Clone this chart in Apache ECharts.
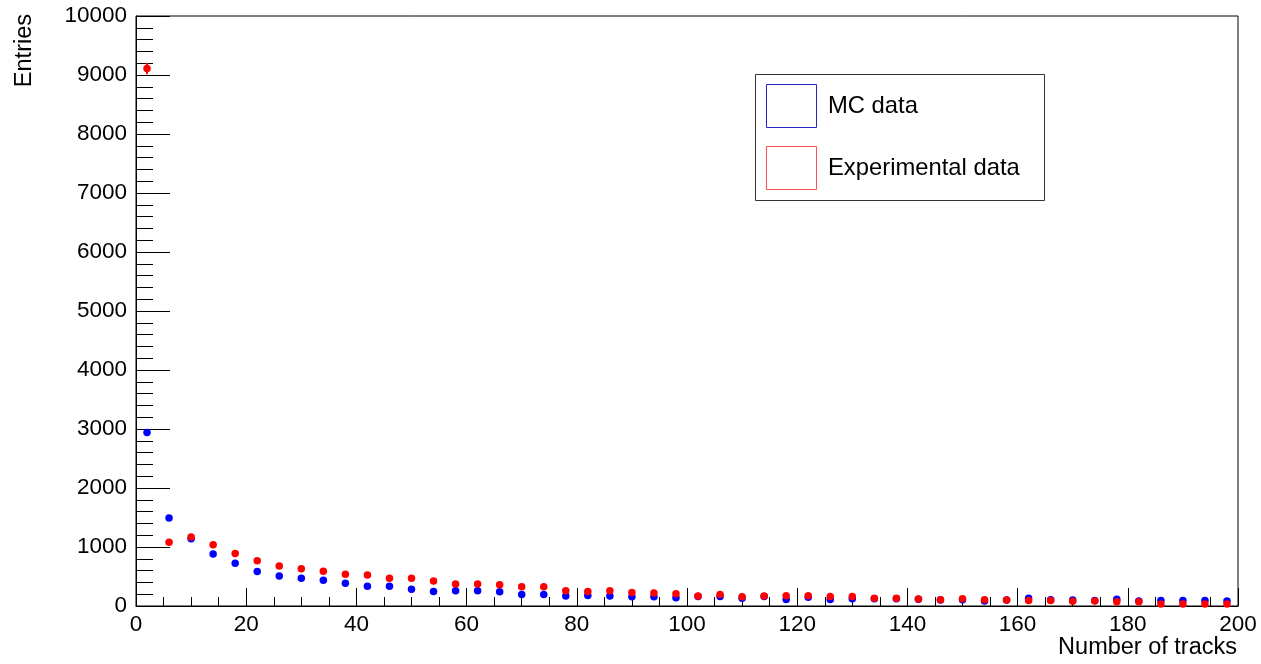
<!DOCTYPE html>
<html>
<head>
<meta charset="utf-8">
<title>Number of tracks</title>
<script src="https://cdn.jsdelivr.net/npm/echarts@6/dist/echarts.min.js"></script>
<style>
  html, body { margin: 0; padding: 0; background: #fff; }
  #chart { width: 1261px; height: 664px; }
</style>
</head>
<body>
<div id="chart"></div>
<script>
// Bin centres (bin width 4 tracks)
const binCenters = [2, 6, 10, 14, 18, 22, 26, 30, 34, 38, 42, 46, 50, 54, 58, 62, 66, 70, 74, 78,
  82, 86, 90, 94, 98, 102, 106, 110, 114, 118, 122, 126, 130, 134, 138, 142, 146, 150, 154, 158,
  162, 166, 170, 174, 178, 182, 186, 190, 194, 198];

// Simulated (MC) entries per bin
const mcEntries = [2940, 1490, 1140, 880, 725, 585, 510, 470, 435, 385, 335, 335, 285, 245, 260, 260,
  240, 195, 195, 170, 180, 170, 155, 155, 140, 160, 160, 132, 160, 112, 150, 110, 125, 125, 125, 115,
  100, 105, 85, 100, 130, 105, 100, 95, 115, 85, 95, 95, 95, 85];

// Measured entries per bin
const expEntries = [9110, 1080, 1170, 1040, 890, 765, 680, 630, 590, 540, 525, 470, 470, 425, 375, 375,
  360, 325, 325, 260, 245, 260, 228, 222, 206, 170, 196, 155, 170, 172, 175, 160, 160, 130, 130, 120,
  105, 125, 105, 100, 95, 95, 80, 85, 70, 70, 35, 35, 35, 35];

// Statistical uncertainty large enough to show outside the marker
const expErrors = [95];

const xTicks = { min: 0, max: 200, interval: 20 };
const yTicks = { min: 0, max: 10000, interval: 1000 };

const mcData = binCenters.map((x, i) => [x, mcEntries[i]]);
const expData = binCenters.map((x, i) => [x, expEntries[i]]);
const errData = expErrors.map((e, i) => [binCenters[i], expEntries[i] - e, expEntries[i] + e]);

const FONT = '"Liberation Sans", Arial, Helvetica, sans-serif';
const chart = echarts.init(document.getElementById('chart'), null, { renderer: 'canvas' });

chart.setOption({
  animation: false,
  backgroundColor: '#ffffff',
  grid: {
    left: 136, right: 23, top: 16, bottom: 58,
    show: true, borderColor: '#000', borderWidth: 1, backgroundColor: 'transparent',
    containLabel: false, outerBoundsMode: 'none'
  },
  xAxis: {
    type: 'value', min: xTicks.min, max: xTicks.max, interval: xTicks.interval,
    axisLine: { show: true, onZero: false, lineStyle: { color: '#000', width: 1 } },
    axisTick: { show: true, inside: true, length: 18, lineStyle: { color: '#000' } },
    minorTick: { show: true, splitNumber: 4, length: 9, lineStyle: { color: '#000' } },
    splitLine: { show: false },
    axisLabel: { color: '#000', fontFamily: FONT, fontSize: 22.5, margin: 7, formatter: v => String(v) }
  },
  yAxis: {
    type: 'value', min: yTicks.min, max: yTicks.max, interval: yTicks.interval,
    axisLine: { show: true, onZero: false, lineStyle: { color: '#000', width: 1 } },
    axisTick: { show: true, inside: true, length: 34, lineStyle: { color: '#000' } },
    minorTick: { show: true, splitNumber: 5, length: 17, lineStyle: { color: '#000' } },
    splitLine: { show: false },
    axisLabel: { color: '#000', fontFamily: FONT, fontSize: 22.5, margin: 9, formatter: v => String(v) }
  },
  series: [
    {
      name: 'MC data', type: 'scatter', data: mcData,
      symbol: 'circle', symbolSize: 7.5,
      itemStyle: { color: '#0000ff', opacity: 1 }, z: 2
    },
    {
      name: 'Experimental data errors', type: 'custom', data: errData, z: 3,
      renderItem: function (params, api) {
        const top = api.coord([api.value(0), api.value(2)]);
        const bot = api.coord([api.value(0), api.value(1)]);
        return {
          type: 'line',
          shape: { x1: top[0], y1: top[1], x2: bot[0], y2: bot[1] },
          style: { stroke: '#ff0000', lineWidth: 2 }
        };
      }
    },
    {
      name: 'Experimental data', type: 'scatter', data: expData,
      symbol: 'circle', symbolSize: 7.5,
      itemStyle: { color: '#ff0000', opacity: 1 }, z: 4
    }
  ],
  graphic: [
    // axis titles
    {
      type: 'text', x: 25, y: 14, rotation: Math.PI / 2,
      style: { text: 'Entries', font: '23.5px ' + FONT, fill: '#000', align: 'right', verticalAlign: 'middle' }
    },
    {
      type: 'text', x: 1237, y: 648,
      style: { text: 'Number of tracks', font: '23.5px ' + FONT, fill: '#000', align: 'right', verticalAlign: 'middle' }
    },
    // legend
    {
      type: 'rect', shape: { x: 755.5, y: 74.5, width: 289, height: 126 },
      style: { fill: '#fff', stroke: '#333', lineWidth: 1 }, z: 10
    },
    {
      type: 'rect', shape: { x: 766.5, y: 84.5, width: 50, height: 43 },
      style: { fill: 'none', stroke: '#2424c8', lineWidth: 1 }, z: 11
    },
    {
      type: 'text', x: 828, y: 106, z: 11,
      style: { text: 'MC data', font: '23.8px ' + FONT, fill: '#000', align: 'left', verticalAlign: 'middle' }
    },
    {
      type: 'rect', shape: { x: 766.5, y: 146.5, width: 50, height: 43 },
      style: { fill: 'none', stroke: '#ff5050', lineWidth: 1 }, z: 11
    },
    {
      type: 'text', x: 828, y: 168, z: 11,
      style: { text: 'Experimental data', font: '23.8px ' + FONT, fill: '#000', align: 'left', verticalAlign: 'middle' }
    }
  ]
});
</script>
</body>
</html>
